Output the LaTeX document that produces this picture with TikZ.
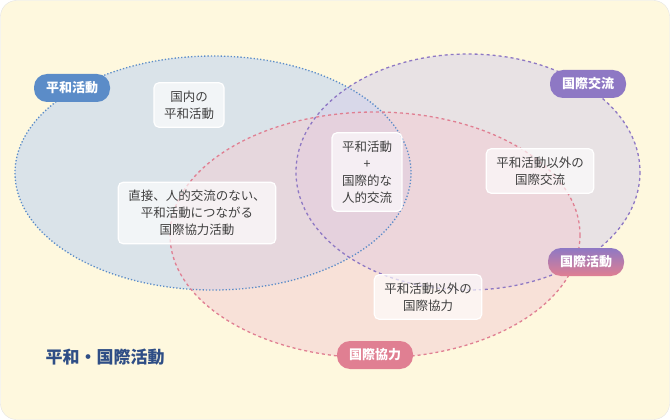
\documentclass[tikz,border=0pt]{standalone}
\usepackage{fontspec}
\newfontfamily\cjk{Noto Sans CJK JP}
\definecolor{bgcream}{HTML}{FEF8DE}
\definecolor{peaceblue}{HTML}{5B8CC8}
\definecolor{exchpurple}{HTML}{8E78C4}
\definecolor{coopred}{HTML}{E07F92}
\definecolor{titleblue}{HTML}{2F4E86}
\begin{document}
\begin{tikzpicture}[x=1pt,y=-1pt,
    every node/.style={font={\cjk\fontsize{12.5}{17}\selectfont}},
    textbox/.style={draw=white,line width=1.2pt,fill=white,fill opacity=0.65,
        text opacity=1,rounded corners=5pt,align=center,text=black!75,
        inner xsep=10pt,inner ysep=8pt},
    tag/.style={rounded corners=13pt,text=white,minimum height=28pt,
        inner xsep=12pt,font={\cjk\bfseries\fontsize{13}{15}\selectfont}}]
\useasboundingbox (0,0) rectangle (670,420);
\fill[bgcream,draw=black!10,rounded corners=16pt] (0.5,0.5) rectangle (669.5,419.5);

% circles
\fill[peaceblue!30,opacity=0.75] (213,173) ellipse [x radius=198,y radius=117];
\fill[exchpurple!35,opacity=0.55] (468,172) ellipse [x radius=172,y radius=118];
\fill[coopred!40,opacity=0.5] (375,235) ellipse [x radius=205,y radius=123];
\draw[peaceblue,dotted,line width=1.3pt] (213,173) ellipse [x radius=198,y radius=117];
\draw[exchpurple,dashed,line width=1.3pt] (468,172) ellipse [x radius=172,y radius=118];
\draw[coopred,dashed,line width=1.3pt] (375,235) ellipse [x radius=205,y radius=123];

% boxes
\node[textbox] (domestic) at (189,105) {国内の\\平和活動};
\node[textbox] (indirect) at (197,213) {直接、人的交流のない、\\平和活動につながる\\国際協力活動};
\node[textbox] (core) at (367,172) {平和活動\\+\\国際的な\\人的交流};
\node[textbox] (exchange) at (540,171) {平和活動以外の\\国際交流};
\node[textbox] (coop) at (428,297) {平和活動以外の\\国際協力};

% tags
\node[tag,fill=peaceblue] (peace) at (72,88) {平和活動};
\node[tag,fill=exchpurple] (intl) at (588,84) {国際交流};
\node[tag,top color=exchpurple,bottom color=coopred] (global) at (586,262) {国際活動};
\node[tag,fill=coopred] (aid) at (375,355) {国際協力};

\node[text=titleblue,font={\cjk\bfseries\fontsize{17}{20}\selectfont}] (title) at (105,357) {平和・国際活動};
\end{tikzpicture}
\end{document}
